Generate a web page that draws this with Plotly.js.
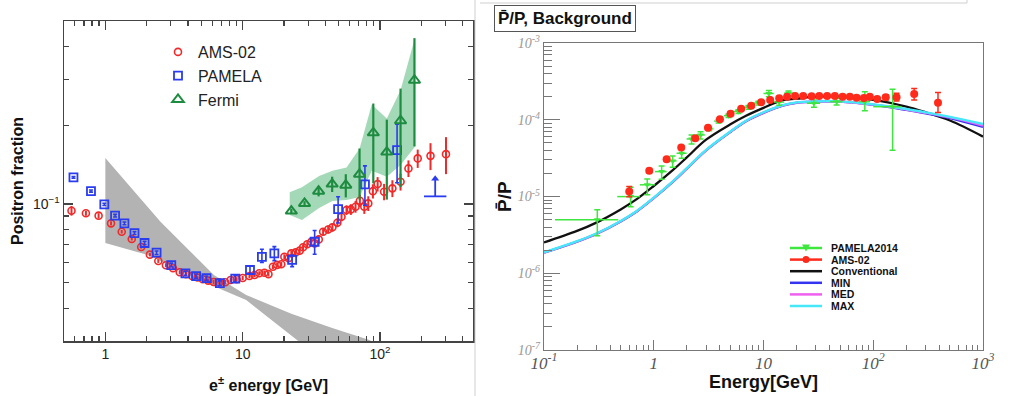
<!DOCTYPE html>
<html><head><meta charset="utf-8">
<script src="https://cdn.plot.ly/plotly-3.0.1.min.js"></script>
<style>html,body{margin:0;padding:0;background:#fff}#chart{width:1012px;height:396px}</style>
</head><body><div id="chart"></div>
<script>
// ================= LEFT PANEL: positron fraction =================
const amsE = [0.567,0.722,0.893,1.10,1.316,1.557,1.824,2.11,2.43,2.76,3.11,3.48,3.87,4.28,4.69,5.12,5.60,6.14,6.74,7.46,8.17,9.04,10.0,
  11.2,12.2,13.2,14.4,15.4,16.6,17.8,19.1,20.1,21.6,22.6,24.3,26.0,27.5,29.5,31.6,33.4,35.8,38.5,41.9,45.0,48.9,52.4,57.0,61.3,66.3,71.3,76.8,82.1,88.7,96,107,123,141,161,188,233,302];
const amsFrac = [0.0943,0.0922,0.0903,0.0844,0.0784,0.0736,0.0686,0.0641,0.0606,0.0584,0.0569,0.0549,0.0540,0.0531,0.0524,0.0516,0.0510,0.0504,0.0503,0.0503,0.0513,0.0516,0.0522,
  0.0531,0.0536,0.0544,0.0547,0.0540,0.0576,0.0586,0.0589,0.0629,0.0621,0.0648,0.0654,0.0664,0.0684,0.0702,0.0717,0.0708,0.0733,0.0784,0.0800,0.0815,0.0849,0.0895,0.0949,0.0954,0.0977,0.1030,0.0977,0.1006,0.1120,0.1192,0.1114,0.1148,0.1216,0.1368,0.1494,0.1528,0.1551];
const amsErr = [0.004,0.002,0.002,0.0015,0.0012,0.001,0.001,0.001,0.001,0.001,0.001,0.001,0.001,0.001,0.001,0.001,0.001,0.001,0.001,0.001,0.001,0.001,0.001,
  0.001,0.001,0.001,0.0011,0.0011,0.0012,0.0012,0.0013,0.0014,0.0014,0.0015,0.0016,0.0017,0.0018,0.0019,0.002,0.0022,0.0024,0.0026,0.0028,0.003,0.0033,0.0036,0.004,0.0045,0.005,0.0055,0.006,0.0065,0.007,0.0075,0.008,0.0085,0.009,0.010,0.012,0.018,0.025];

const pamE = [0.586,0.786,0.983,1.177,1.377,1.63,1.93,2.36,3.02,3.83,4.58,5.45,6.82,8.83,11.3,13.8,17.0,22.9,33.4,49.5,77.6,133];
const pamFrac = [0.1264,0.1121,0.0997,0.0903,0.0844,0.0775,0.0710,0.0652,0.0585,0.0544,0.0531,0.0521,0.0499,0.0519,0.0560,0.0629,0.0648,0.0612,0.0718,0.0957,0.1189,0.1606];
const pamErrUp = [0.001,0.001,0.001,0.001,0.001,0.001,0.001,0.001,0.001,0.001,0.001,0.001,0.001,0.0015,0.002,0.0043,0.004,0.0027,0.0075,0.011,0.021,0.041];
const pamErrDn = [0.001,0.001,0.001,0.001,0.001,0.001,0.001,0.001,0.001,0.001,0.001,0.001,0.001,0.0015,0.002,0.0031,0.004,0.0035,0.0075,0.011,0.020,0.040];
const pamLimitE = [252];
const pamLimitBase = [0.107];
const pamLimitTip = [0.125];

const fermiE = [22.6,28.2,35.7,44.8,56.3,70.9,89.3,112,141,178];
const fermiFrac = [0.094,0.1006,0.112,0.1192,0.118,0.130,0.187,0.158,0.208,0.297];
const fermiErrUp = [0.002,0.002,0.005,0.008,0.012,0.033,0.055,0.052,0.068,0.133];
const fermiErrDn = [0.002,0.002,0.005,0.008,0.012,0.026,0.067,0.054,0.092,0.131];
const fermiBandE = [22,27,36,45,57,71,87,112,141,180];
const fermiBandHigh = [0.111,0.116,0.128,0.134,0.138,0.163,0.240,0.212,0.272,0.433];
const fermiBandLow = [0.0908,0.0869,0.0965,0.1027,0.1036,0.1063,0.134,0.127,0.141,0.166];

const secHighE = [1.0,2.53,6.17,10.6,22.6,44.3,82.6,100];
const secHigh = [0.150,0.0854,0.0536,0.045,0.0381,0.0337,0.0303,0.029];
const secLowE = [1.0,2.04,4.73,10.6,16.1,25.4,30];
const secLow = [0.0710,0.0639,0.0515,0.0430,0.0361,0.0300,0.028];

// ================= RIGHT PANEL: antiproton / proton =================
const pbarPamE = [0.306,0.616,0.873,1.18,1.486,1.795,2.21,2.67,3.2,3.9,4.8,5.9,7.3,9.0,11.2,13.9,16.9,28.8,46.4,83.8,150];
const pbarPamR = [4.96e-6,9.97e-6,1.42e-5,2.11e-5,2.91e-5,3.66e-5,5.62e-5,6.34e-5,7.6e-5,9.6e-5,1.13e-4,1.28e-4,1.45e-4,1.65e-4,2.2e-4,1.7e-4,2.22e-4,1.64e-4,1.72e-4,1.72e-4,1.48e-4];
const pbarPamErrUp = [1.74e-6,3.2e-6,2.7e-6,3.9e-6,4.7e-6,6e-6,7.2e-6,6.6e-6,4e-6,5e-6,6e-6,7e-6,8e-6,9e-6,2e-5,1.5e-5,1.5e-5,2.2e-5,1.8e-5,6e-5,1.01e-4];
const pbarPamErrDn = [1.89e-6,2.6e-6,3.7e-6,4.3e-6,5e-6,5.1e-6,7.8e-6,7.4e-6,4e-6,5e-6,6e-6,7e-6,8e-6,9e-6,2e-5,1.5e-5,1.5e-5,1.8e-5,1.6e-5,4.1e-5,1.08e-4];
const pbarPamBinLo = [0.18,0.151,0.125,0.154,0.149,0.18,0.216,0.25,0.28,0.35,0.45,0.55,0.7,0.9,1.2,1.4,1.5,4,6,10,50];
const pbarPamBinHi = [0.169,0.132,0.153,0.13,0.129,0.2,0.21,0.25,0.3,0.4,0.5,0.6,0.7,1.0,1.2,1.5,2.0,4,6,10,30];

const pbarAmsE = [0.598,0.91,1.31,1.78,2.39,3.12,4.01,5.01,6.26,7.73,9.53,11.5,13.9,16.4,19.4,23.0,27.4,32.2,38.0,44.7,52.5,61.2,70.5,82.1,93.1,108.6,130,163,236,389];
const pbarAmsR = [1.16e-5,2.16e-5,3.06e-5,4.34e-5,5.74e-5,7.89e-5,1.016e-4,1.20e-4,1.395e-4,1.527e-4,1.69e-4,1.81e-4,1.905e-4,2.0e-4,2.04e-4,2.04e-4,2.02e-4,2.04e-4,2.04e-4,2.04e-4,2.0e-4,2.0e-4,1.94e-4,1.92e-4,2.0e-4,1.87e-4,1.96e-4,1.96e-4,2.17e-4,1.67e-4];
const pbarAmsErrUp = [1.9e-6,1.2e-6,1.5e-6,2e-6,2.5e-6,3e-6,3.5e-6,4e-6,4.5e-6,5e-6,5.5e-6,6e-6,6e-6,6.5e-6,7e-6,7e-6,7e-6,7.5e-6,8e-6,8.5e-6,9e-6,9.5e-6,1e-5,1.1e-5,1.2e-5,1.3e-5,1.5e-5,2.5e-5,3.8e-5,5.9e-5];
const pbarAmsErrDn = [1.7e-6,1.2e-6,1.5e-6,2e-6,2.5e-6,3e-6,3.5e-6,4e-6,4.5e-6,5e-6,5.5e-6,6e-6,6e-6,6.5e-6,7e-6,7e-6,7e-6,7.5e-6,8e-6,8.5e-6,9e-6,9.5e-6,1e-5,1.1e-5,1.2e-5,1.3e-5,1.5e-5,2e-5,3.6e-5,4.3e-5];

const modelE = [0.1,0.2,0.3,0.5,0.7,1,1.5,2,3,5,7,10,15,20,30,50,100,200,300,500,1000];
const convR = [2.52e-6,3.56e-6,4.57e-6,6.79e-6,9.23e-6,1.37e-5,2.22e-5,3.23e-5,5.5e-5,8.73e-5,1.135e-4,1.43e-4,1.80e-4,1.88e-4,2.0e-4,2.0e-4,1.81e-4,1.48e-4,1.25e-4,9.77e-5,6.03e-5];
const minR = [1.85e-6,2.58e-6,3.25e-6,4.73e-6,6.38e-6,9.5e-6,1.56e-5,2.30e-5,3.98e-5,6.93e-5,9.64e-5,1.23e-4,1.53e-4,1.66e-4,1.72e-4,1.72e-4,1.56e-4,1.34e-4,1.21e-4,1.05e-4,8.05e-5];
const medR = [1.85e-6,2.59e-6,3.26e-6,4.75e-6,6.41e-6,9.55e-6,1.57e-5,2.31e-5,4.0e-5,6.97e-5,9.7e-5,1.24e-4,1.54e-4,1.67e-4,1.73e-4,1.73e-4,1.57e-4,1.36e-4,1.23e-4,1.07e-4,8.4e-5];
const maxR = [1.87e-6,2.62e-6,3.3e-6,4.8e-6,6.48e-6,9.65e-6,1.59e-5,2.34e-5,4.05e-5,7.05e-5,9.8e-5,1.25e-4,1.55e-4,1.68e-4,1.74e-4,1.74e-4,1.59e-4,1.38e-4,1.25e-4,1.09e-4,8.8e-5];

const rightLegendLabels = ['PAMELA2014','AMS-02','Conventional','MIN','MED','MAX'];

// tick labels
const leftXTicks = [1, 10, 100];
const leftXTickText = ['1', '10', '10<sup>2</sup>'];
const leftYTicks = [0.1];
const leftYTickText = ['10<sup>\u22121</sup>'];
const rightXTicks = [0.1, 1, 10, 100, 1000];
const rightXTickText = ['10<sup>-1</sup>', '1', '10', '10<sup>2</sup>', '10<sup>3</sup>'];
const rightYTicks = [1e-7, 1e-6, 1e-5, 1e-4, 1e-3];
const rightYTickText = ['10<sup>-7</sup>', '10<sup>-6</sup>', '10<sup>-5</sup>', '10<sup>-4</sup>', '10<sup>-3</sup>'];

// ================= styling =================
const W = 1012, H = 396;
const px = v => v / W, py = v => 1 - v / H;
const cRed = '#f02a2a', cBlue = '#2a3cf0', cGreen = '#1e8c40';
const cPamR = '#3ee63e', cAmsR = '#ff2a1a', cConv = '#111111', cMin = '#3434f0', cMed = '#f060f0', cMax = '#44e8f8';
const legendColors = [cPamR, cAmsR, cConv, cMin, cMed, cMax];

const traces = [];
traces.push({x: secHighE.concat(secLowE.slice().reverse()), y: secHigh.concat(secLow.slice().reverse()),
  xaxis:'x', yaxis:'y', mode:'lines', fill:'toself', fillcolor:'#b3b3b3', line:{width:0, color:'#b3b3b3'}, showlegend:false});
traces.push({x: fermiBandE.concat(fermiBandE.slice().reverse()), y: fermiBandHigh.concat(fermiBandLow.slice().reverse()),
  xaxis:'x', yaxis:'y', mode:'lines', fill:'toself', fillcolor:'rgba(90,185,125,0.55)', line:{width:0, color:'rgba(0,0,0,0)'}, showlegend:false});
traces.push({x: amsE, y: amsFrac, name:'AMS-02', xaxis:'x', yaxis:'y', mode:'markers',
  marker:{symbol:'circle-open', size:7, color:cRed, line:{width:1.6, color:cRed}},
  error_y:{type:'data', array:amsErr, color:cRed, thickness:2, width:0}});
traces.push({x: pamE, y: pamFrac, name:'PAMELA', xaxis:'x', yaxis:'y', mode:'markers',
  marker:{symbol:'square-open', size:8, color:cBlue, line:{width:1.8, color:cBlue}},
  error_y:{type:'data', symmetric:false, array:pamErrUp, arrayminus:pamErrDn, color:cBlue, thickness:1.6, width:2}});
traces.push({x: fermiE, y: fermiFrac, name:'Fermi', xaxis:'x', yaxis:'y', mode:'markers',
  marker:{symbol:'triangle-up-open', size:10, color:cGreen, line:{width:2, color:cGreen}},
  error_y:{type:'data', symmetric:false, array:fermiErrUp, arrayminus:fermiErrDn, color:cGreen, thickness:2.2, width:0}});
traces.push({x: pamLimitE.concat(pamLimitE), y: pamLimitBase.concat(pamLimitTip), xaxis:'x', yaxis:'y', mode:'lines',
  line:{color:cBlue, width:1.8}, showlegend:false});
traces.push({x: pamLimitE, y: pamLimitBase, xaxis:'x', yaxis:'y', mode:'markers',
  marker:{symbol:'line-ew-open', size:16, color:cBlue, line:{width:1.8, color:cBlue}}, showlegend:false});
traces.push({x: pamLimitE, y: pamLimitTip, xaxis:'x', yaxis:'y', mode:'markers',
  marker:{symbol:'triangle-up', size:7, color:cBlue}, showlegend:false});

[[convR,cConv],[minR,cMin],[medR,cMed],[maxR,cMax]].forEach(([arr,col]) => {
  traces.push({x: modelE, y: arr, xaxis:'x2', yaxis:'y2', mode:'lines', line:{color:col, width:2.3, shape:'spline'}, showlegend:false});
});
traces.push({x: pbarPamE, y: pbarPamR, xaxis:'x2', yaxis:'y2', mode:'markers',
  marker:{symbol:'triangle-down', size:6, color:cPamR},
  error_y:{type:'data', symmetric:false, array:pbarPamErrUp, arrayminus:pbarPamErrDn, color:cPamR, thickness:1.5, width:3},
  error_x:{type:'data', symmetric:false, array:pbarPamBinHi, arrayminus:pbarPamBinLo, color:cPamR, thickness:1.5, width:0},
  showlegend:false});
traces.push({x: pbarAmsE, y: pbarAmsR, xaxis:'x2', yaxis:'y2', mode:'markers',
  marker:{symbol:'circle', size:8, color:cAmsR},
  error_y:{type:'data', symmetric:false, array:pbarAmsErrUp, arrayminus:pbarAmsErrDn, color:cAmsR, thickness:1.5, width:3},
  showlegend:false});

const minorDecades = (lo, hi) => { const v = []; for (let d = lo; d <= hi; d++) for (let k = 2; k <= 9; k++) v.push(k * Math.pow(10, d)); return v; };

const leftFont = {family:'Liberation Sans, Arial, sans-serif', size:14, color:'#222'};
const layout = {
  width: W, height: H, margin:{l:0,r:0,t:0,b:0}, paper_bgcolor:'#fff', plot_bgcolor:'rgba(0,0,0,0)',
  showlegend:true, hovermode:false,
  xaxis:{type:'log', domain:[px(64), px(473)], range:[Math.log10(0.5), Math.log10(475)], anchor:'y',
    showline:true, linecolor:'#444', linewidth:1.5, mirror:'ticks', showgrid:false, zeroline:false,
    ticks:'inside', ticklen:9, tickwidth:1.3, tickcolor:'#444', tickmode:'array', tickvals:leftXTicks, ticktext:leftXTickText, tickfont:leftFont,
    minor:{ticks:'inside', tickvals:minorDecades(-1,2).filter(v => v > 0.5 && v < 475), ticklen:5, tickwidth:1.2, tickcolor:'#444', showgrid:false}},
  yaxis:{type:'log', domain:[py(341), py(21)], range:[Math.log10(0.03), Math.log10(0.5)], anchor:'x',
    showline:true, linecolor:'#444', linewidth:1.5, mirror:'ticks', showgrid:false, zeroline:false,
    ticks:'inside', ticklen:9, tickwidth:1.3, tickcolor:'#444', tickmode:'array', tickvals:leftYTicks, ticktext:leftYTickText, tickfont:leftFont,
    minor:{ticks:'inside', tickvals:minorDecades(-2,-1).filter(v => v > 0.03 && v < 0.5), ticklen:5, tickwidth:1.2, tickcolor:'#444', showgrid:false}},
  xaxis2:{type:'log', domain:[px(544), px(983)], range:[-1, 3], anchor:'y2',
    showline:true, linecolor:'#777', linewidth:1.2, mirror:true, showgrid:false, zeroline:false,
    ticks:'inside', ticklen:10, tickwidth:1, tickcolor:'#777', tickmode:'array', tickvals:rightXTicks, ticktext:rightXTickText,
    ticklabelstandoff:-3,
    tickfont:{family:'Liberation Serif, Times New Roman, serif', style:'italic', size:17, color:'#555'},
    minor:{ticks:'inside', tickvals:minorDecades(-1,2), ticklen:5, tickwidth:1, tickcolor:'#777', showgrid:false}},
  yaxis2:{type:'log', domain:[py(350), py(43)], range:[-7, -3], anchor:'x2',
    showline:true, linecolor:'#777', linewidth:1.2, mirror:true, showgrid:false, zeroline:false,
    ticks:'inside', ticklen:16, tickwidth:1, tickcolor:'#777', tickmode:'array', tickvals:rightYTicks, ticktext:rightYTickText,
    tickfont:{family:'Liberation Serif, Times New Roman, serif', style:'italic', size:14, color:'#999'},
    minor:{ticks:'inside', tickvals:minorDecades(-7,-4), ticklen:8, tickwidth:1, tickcolor:'#777', showgrid:false}},
  legend:{x:px(158), y:py(35), xanchor:'left', yanchor:'top', bgcolor:'rgba(0,0,0,0)', borderwidth:0,
    font:{family:'Liberation Sans, Arial, sans-serif', size:16, color:'#222'}, itemwidth:30, tracegroupgap:0},
  annotations:[], shapes:[]
};

const A = layout.annotations, S = layout.shapes;
const titleFont = s => ({family:'Liberation Sans, Arial, sans-serif', size:s, color:'#111'});
A.push({text:'<b>Positron fraction</b>', xref:'paper', yref:'paper', x:px(17), y:py(181), xanchor:'center', yanchor:'middle', textangle:-90, showarrow:false, font:titleFont(16)});
A.push({text:'<b>e<sup>±</sup> energy [GeV]</b>', xref:'paper', yref:'paper', x:px(268), y:py(384), xanchor:'center', yanchor:'middle', showarrow:false, font:titleFont(16)});
A.push({text:'<b>P\u0304/P, Background</b>', xref:'paper', yref:'paper', x:px(494), y:py(5), xanchor:'left', yanchor:'top', showarrow:false,
  bordercolor:'#555', borderwidth:1, borderpad:3, bgcolor:'#fff', font:titleFont(17)});
A.push({text:'<b>P\u0304/P</b>', xref:'paper', yref:'paper', x:px(505), y:py(197), xanchor:'center', yanchor:'middle', textangle:-90, showarrow:false, font:titleFont(19)});
A.push({text:'<b>Energy[GeV]</b>', xref:'paper', yref:'paper', x:px(763), y:py(382), xanchor:'center', yanchor:'middle', showarrow:false, font:titleFont(18)});

rightLegendLabels.forEach((lab, i) => {
  const yy = 248 + i * 11.6;
  S.push({type:'line', xref:'paper', yref:'paper', x0:px(790), x1:px(822), y0:py(yy), y1:py(yy), line:{color:legendColors[i], width:2.5}});
  A.push({text:'<b>' + lab + '</b>', xref:'paper', yref:'paper', x:px(829), y:py(yy), xanchor:'left', yanchor:'middle', showarrow:false,
    font:{family:'Liberation Sans, Arial, sans-serif', size:10.5, color:'#111'}});
});
{ const yy = 248; S.push({type:'path', xref:'paper', yref:'paper', fillcolor:cPamR, line:{width:0},
    path:`M${px(802)},${py(yy-3.5)} L${px(810)},${py(yy-3.5)} L${px(806)},${py(yy+3.5)} Z`}); }
{ const yy = 248 + 11.6; S.push({type:'circle', xref:'paper', yref:'paper', fillcolor:cAmsR, line:{width:0},
    x0:px(802.5), x1:px(809.5), y0:py(yy-3.5), y1:py(yy+3.5)}); }

S.push({type:'line', xref:'paper', yref:'paper', x0:px(475), x1:px(475), y0:0, y1:1, line:{color:'#cfcfcf', width:1}});
S.push({type:'line', xref:'paper', yref:'paper', x0:px(480), x1:px(967), y0:py(3), y1:py(3), line:{color:'#cfcfcf', width:1}});
S.push({type:'line', xref:'paper', yref:'paper', x0:px(967), x1:px(967), y0:1, y1:py(3), line:{color:'#cfcfcf', width:1}});

Plotly.newPlot('chart', traces, layout, {staticPlot:true});
</script></body></html>
